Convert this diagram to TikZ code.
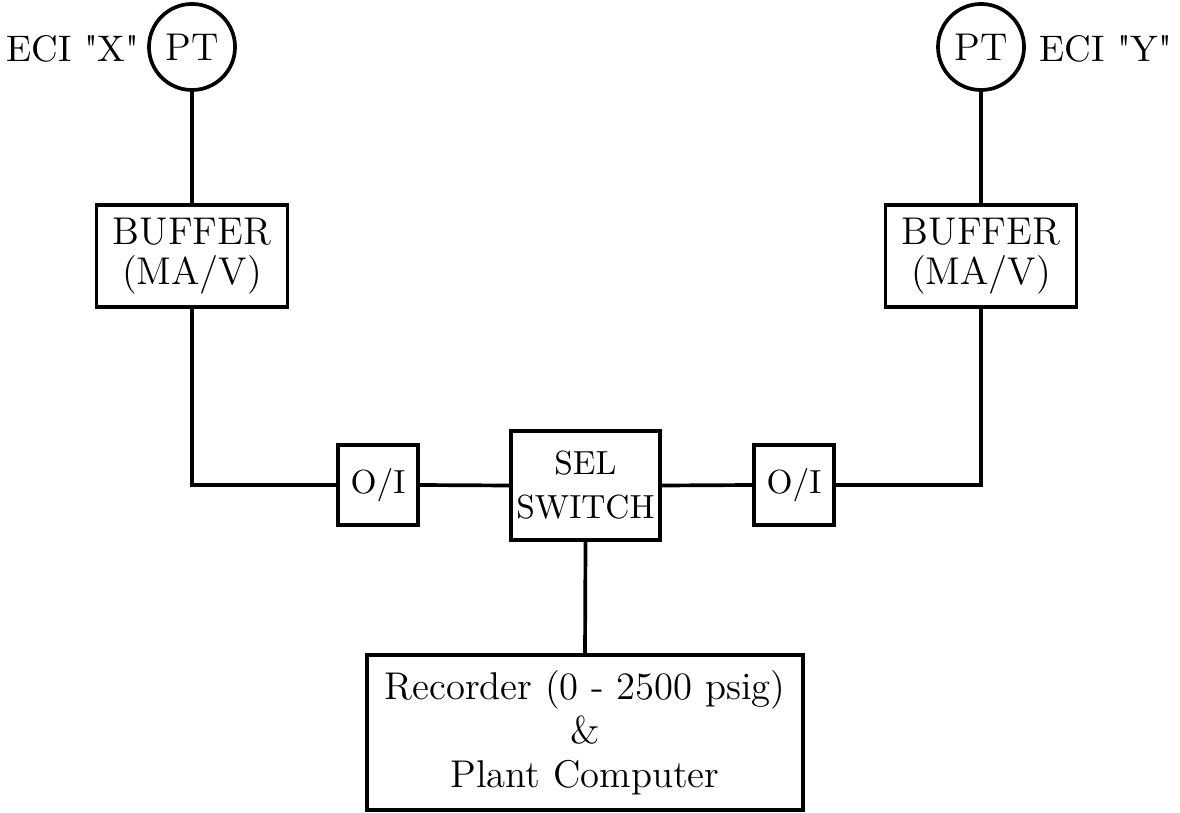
\documentclass[tikz,border=0pt]{standalone}
\usepackage{tikz}

\begin{document}
\begin{tikzpicture}[
x=0.01cm, y=-0.01cm,
line width=1.05pt,
every node/.style={
    align=center,
    inner sep=0pt
},
block/.style={
    draw,
    font=\fontsize{11}{12.5}\selectfont
},
gauge/.style={
    circle,
    draw,
    minimum size=0.86cm,
    font=\fontsize{11}{12.5}\selectfont
},
small block/.style={
    draw,
    font=\fontsize{9.5}{11.5}\selectfont
},
tag/.style={
    font=\fontsize{10.5}{12}\selectfont
}
]
\useasboundingbox (0,0) rectangle (1180,813);

% transmitters
\node[gauge] (ptx) at (192,47) {PT};
\node[tag] (ecix) at (73,49) {ECI \textquotedbl X\textquotedbl};
\node[gauge] (pty) at (981,47) {PT};
\node[tag] (eciy) at (1106,49) {ECI \textquotedbl Y\textquotedbl};

% buffers
\node[block, minimum width=1.91cm, minimum height=1.02cm] (bufx) at (192,256) {BUFFER\\[-1pt](MA/V)};
\node[block, minimum width=1.91cm, minimum height=1.02cm] (bufy) at (981,256) {BUFFER\\[-1pt](MA/V)};

% isolators and switch
\node[small block, minimum size=0.8cm] (oix) at (378,485) {O/I};
\node[small block, minimum size=0.8cm] (oiy) at (794,485) {O/I};
\node[small block, minimum width=1.49cm, minimum height=1.09cm] (sel) at (585.5,485.5) {SEL\\[1pt]SWITCH};

% recorder
\node[block, minimum width=4.36cm, minimum height=1.55cm] (rec) at (585,732.5)
    {Recorder (0 - 2500 psig)\\\&\\Plant Computer};

\draw (ptx.south) -- (bufx.north);
\draw (pty.south) -- (bufy.north);
\draw (bufx.south) |- (oix.west);
\draw (bufy.south) |- (oiy.east);
\draw (oix.east) -- (sel.west);
\draw (sel.east) -- (oiy.west);
\draw (sel.south) -- (rec.north);
\end{tikzpicture}
\end{document}
